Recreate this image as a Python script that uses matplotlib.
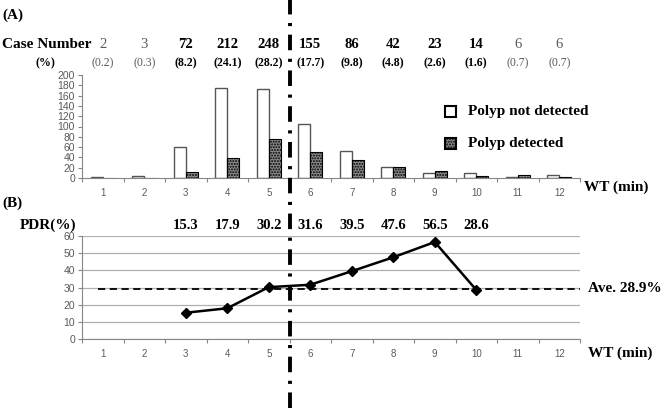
import matplotlib
matplotlib.use("Agg")
import matplotlib.pyplot as plt
from matplotlib.patches import Rectangle
from matplotlib.lines import Line2D
import matplotlib.transforms as mtransforms

# ---- data ----
wt = [1, 2, 3, 4, 5, 6, 7, 8, 9, 10, 11, 12]
not_detected = [2, 3, 61, 174, 173, 105, 52, 21, 10, 10, 1, 5]
detected = [0, 0, 11, 38, 75, 50, 34, 21, 13, 4, 5, 1]
case_numbers = ["2", "3", "72", "212", "248", "155", "86", "42", "23", "14", "6", "6"]
case_pct = ["(0.2)", "(0.3)", "(8.2)", "(24.1)", "(28.2)", "(17.7)", "(9.8)", "(4.8)",
            "(2.6)", "(1.6)", "(0.7)", "(0.7)"]
case_bold = [False, False, True, True, True, True, True, True, True, True, False, False]
pdr_wt = [3, 4, 5, 6, 7, 8, 9, 10]
pdr = [15.3, 17.9, 30.2, 31.6, 39.5, 47.6, 56.5, 28.6]
pdr_labels = ["15.3", "17.9", "30.2", "31.6", "39.5", "47.6", "56.5", "28.6"]
average = 28.9

W, H = 664, 408
fig = plt.figure(figsize=(W / 100, H / 100), dpi=100)
serif = "Liberation Serif"
sans = "Liberation Sans"
gray_txt = "#595959"
axis_col = "#868686"

def fx(px):
    return px / W

def fy(py):
    return 1 - py / H

def style_axis(ax):
    ax.set_xlim(0.5, 12.5)
    ax.set_xticks([x + 0.5 for x in range(0, 13)])
    ax.set_xticks(wt, minor=True)
    ax.set_xticklabels([])
    ax.set_xticklabels([str(w) for w in wt], minor=True)
    ax.tick_params(axis="x", which="major", length=3, color=axis_col)
    ax.tick_params(axis="x", which="minor", length=0, labelsize=7, labelcolor=gray_txt, pad=7)
    ax.tick_params(axis="y", length=3, color=axis_col, labelsize=7.5, labelcolor=gray_txt, pad=2)
    for lab in ax.get_yticklabels() + ax.get_xticklabels(minor=True):
        lab.set_fontfamily(sans)
    for s in ["top", "right"]:
        ax.spines[s].set_visible(False)
    for s in ["left", "bottom"]:
        ax.spines[s].set_color(axis_col)
        ax.spines[s].set_linewidth(0.8)

# ---- top axes (A) ----
ax1 = fig.add_axes([fx(82), fy(178), fx(580) - fx(82), fy(75) - fy(178)])
bw = 0.29
ax1.bar([x - bw / 2 for x in wt], not_detected, width=bw, color="white",
        edgecolor="#555555", linewidth=1.0)
ax1.bar([x + bw / 2 for x in wt], detected, width=bw, color="#8c8c8c",
        edgecolor="black", linewidth=0.8, hatch="......")
ax1.set_ylim(0, 200)
ax1.set_yticks(range(0, 201, 20))
style_axis(ax1)

# ---- bottom axes (B) ----
ax2 = fig.add_axes([fx(82), fy(339), fx(580) - fx(82), fy(236) - fy(339)])
ax2.set_ylim(0, 60)
ax2.set_yticks(range(0, 61, 10))
ax2.yaxis.grid(True, color="#b0b0b0", linewidth=0.9)
ax2.set_axisbelow(True)
ax2.plot([0.88, 12.5], [average, average], color="black", linestyle=(0, (4, 2.5)),
         linewidth=1.3, clip_on=False)
ax2.plot(pdr_wt, pdr, color="black", linewidth=1.8, marker="D", markersize=5.5)
style_axis(ax2)

# ---- vertical dash-dot line ----
trans = mtransforms.blended_transform_factory(ax1.transData, fig.transFigure)
fig.add_artist(Line2D([5.5, 5.5], [0, 1], transform=trans, color="black",
                      linewidth=2.8, linestyle=(0, (4, 2.2, 0.8, 2.2))))

# ---- texts (A) ----
tA = mtransforms.blended_transform_factory(ax1.transData, fig.transFigure)
fig.text(fx(2), fy(15), "(A)", fontfamily=serif, fontweight="bold", fontsize=11, va="center")
fig.text(fx(2), fy(44), "Case Number", fontfamily=serif, fontweight="bold", fontsize=11,
         va="center")
fig.text(fx(45), fy(63), "(%)", fontfamily=serif, fontweight="bold", fontsize=8.5, va="center",
         ha="center")
for x, n, p, b in zip(wt, case_numbers, case_pct, case_bold):
    fig.text(x, fy(44), n, transform=tA, fontfamily=serif, ha="center", va="center",
             fontsize=10.5, fontweight="bold" if b else "normal",
             color="black" if b else gray_txt)
    fig.text(x, fy(63), p, transform=tA, fontfamily=serif, ha="center", va="center",
             fontsize=8.5, fontweight="bold" if b else "normal",
             color="black" if b else gray_txt)

# legend
fig.add_artist(Rectangle((fx(445), fy(117)), fx(11), 11 / H, transform=fig.transFigure,
                         facecolor="white", edgecolor="black", linewidth=1.5))
fig.add_artist(Rectangle((fx(445), fy(149)), fx(11), 11 / H, transform=fig.transFigure,
                         facecolor="#8c8c8c", edgecolor="black", linewidth=1.5,
                         hatch="......"))
fig.text(fx(468), fy(112), "Polyp not detected", fontfamily=serif, fontweight="bold",
         fontsize=11, va="center")
fig.text(fx(468), fy(143), "Polyp detected", fontfamily=serif, fontweight="bold",
         fontsize=11, va="center")
fig.text(fx(584), fy(187), "WT (min)", fontfamily=serif, fontweight="bold", fontsize=11,
         va="center")

# ---- texts (B) ----
tB = mtransforms.blended_transform_factory(ax2.transData, fig.transFigure)
fig.text(fx(2), fy(203), "(B)", fontfamily=serif, fontweight="bold", fontsize=11, va="center")
fig.text(fx(20), fy(225), "PDR(%)", fontfamily=serif, fontweight="bold", fontsize=11,
         va="center")
for x, lab in zip(pdr_wt, pdr_labels):
    fig.text(x, fy(225), lab, transform=tB, fontfamily=serif, fontweight="bold",
             fontsize=10.5, ha="center", va="center")
fig.text(fx(588), fy(289), "Ave. 28.9%", fontfamily=serif, fontweight="bold", fontsize=11,
         va="center")
fig.text(fx(588), fy(353), "WT (min)", fontfamily=serif, fontweight="bold", fontsize=11,
         va="center")

fig.savefig("out.png", dpi=100)
